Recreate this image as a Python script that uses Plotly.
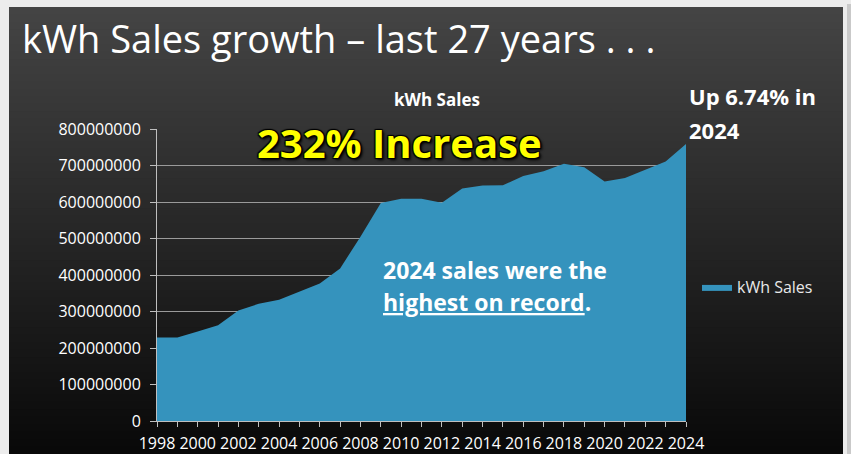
import plotly.graph_objects as go

# ---- data ----
years = list(range(1998, 2025))
kwh_sales = [229e6, 229e6, 245e6, 262e6, 303e6, 321e6, 332e6, 355e6, 377e6, 418e6,
             505e6, 597e6, 609e6, 609e6, 598e6, 637e6, 645e6, 646e6, 671e6, 684e6,
             705e6, 695e6, 656e6, 666e6, 688e6, 711e6, 759e6]
y_ticks = [0, 100e6, 200e6, 300e6, 400e6, 500e6, 600e6, 700e6, 800e6]
y_tick_labels = [str(int(v)) for v in y_ticks]
x_tick_years = list(range(1998, 2025, 2))

W, H = 851, 454
L, R, T, B = 157, 165, 129, 33
PW, PH = W - L - R, H - T - B


def px(p):
    return (p - L) / PW


def py(p):
    return (H - B - p) / PH


FONT = "Open Sans"

fig = go.Figure()
fig.add_trace(go.Scatter(
    x=years, y=kwh_sales, name="kWh Sales", mode="lines",
    fill="tozeroy", fillcolor="#3593bd", line=dict(width=0, color="#3593bd"),
    hoverinfo="x+y",
))

shapes = []
# dark gradient panel (each band runs to the bottom so no seams show)
top_c, bot_c = (0x45, 0x45, 0x45), (0x08, 0x08, 0x08)
y0p, y1p = 7, H
n = 60
for i in range(n):
    a = y0p + (y1p - y0p) * i / n
    t = (i + 0.5) / n
    c = tuple(int(round(top_c[k] + (bot_c[k] - top_c[k]) * t)) for k in range(3))
    shapes.append(dict(type="rect", xref="paper", yref="paper", layer="below",
                       x0=px(9), x1=px(843), y0=py(H + 2), y1=py(a),
                       fillcolor="rgb(%d,%d,%d)" % c, line=dict(width=0)))
# right frame line
shapes.append(dict(type="rect", xref="paper", yref="paper", layer="below",
                   x0=px(847), x1=px(851), y0=py(H), y1=py(4),
                   fillcolor="#c9c9c9", line=dict(width=0)))


def ann(text, x, y, xanchor, size, color="white", **font_extra):
    return dict(text=text, x=px(x), y=py(y), xref="paper", yref="paper",
                xanchor=xanchor, yanchor="middle", showarrow=False,
                font=dict(family=FONT, size=size, color=color, **font_extra))


annotations = [
    ann("kWh Sales growth – last 27 years . . .", 20, 38, "left", 38),
    ann("<b>kWh Sales</b>", 437, 99, "center", 17),
    ann("<b>232% Increase</b>", 399, 142, "center", 40, color="#ffff00",
        shadow="1px 1px 1px #000, -1px -1px 1px #000, 1px -1px 1px #000, -1px 1px 1px #000, 2px 2px 3px #000"),
    ann("<b>Up 6.74% in</b>", 687, 96, "left", 22),
    ann("<b>2024</b>", 687, 130, "left", 22),
    ann("<b>2024 sales were the</b>", 381, 270, "left", 23),
    ann("<b><u>highest on record</u>.</b>", 381, 302, "left", 23),
]

fig.update_layout(
    width=W, height=H,
    margin=dict(l=L, r=R, t=T, b=B, pad=0, autoexpand=False),
    paper_bgcolor="#ececec",
    plot_bgcolor="rgba(0,0,0,0)",
    shapes=shapes,
    annotations=annotations,
    showlegend=True,
    legend=dict(x=px(697), y=py(287), xanchor="left", yanchor="middle",
                bgcolor="rgba(0,0,0,0)", font=dict(family=FONT, size=16, color="#e8e8e8"),
                itemwidth=30),
    xaxis=dict(range=[1998, 2024], tickmode="array", tickvals=x_tick_years,
               ticktext=[str(v) for v in x_tick_years], automargin=False,
               showgrid=False, zeroline=False, showline=True, linecolor="#bfbfbf", linewidth=1,
               ticks="outside", ticklen=5, tickcolor="#bfbfbf", ticklabelstandoff=3,
               minor=dict(dtick=1, ticks="outside", ticklen=5, tickcolor="#bfbfbf", showgrid=False),
               tickfont=dict(family=FONT, size=16, color="white")),
    yaxis=dict(range=[0, 800e6], tickmode="array", tickvals=y_ticks, ticktext=y_tick_labels,
               automargin=False,
               showgrid=True, gridcolor="#9a9a9a", gridwidth=1, zeroline=False,
               showline=True, linecolor="#bfbfbf", linewidth=1,
               ticks="outside", ticklen=6, tickcolor="#bfbfbf", ticklabelstandoff=6,
               tickfont=dict(family=FONT, size=16, color="white")),
)

fig.write_html("out.html", config={"displayModeBar": False},
               post_script="document.body.style.margin='0';")
